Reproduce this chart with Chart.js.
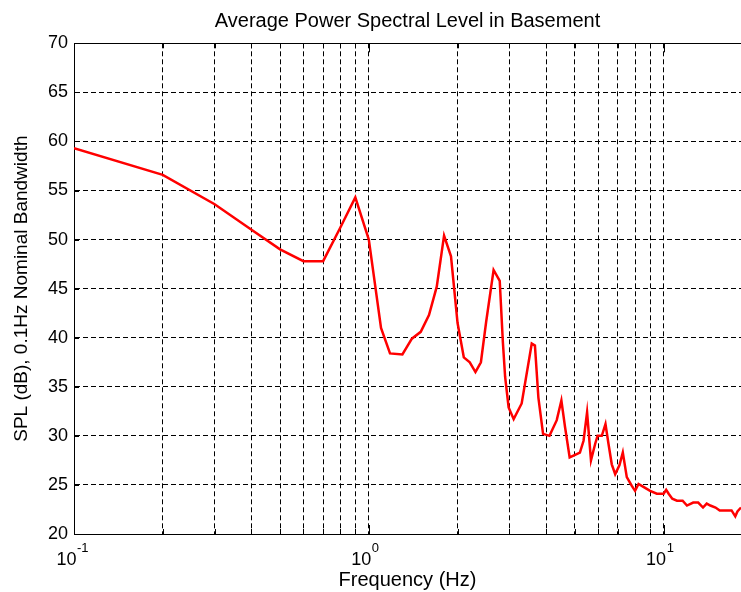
<!DOCTYPE html>
<html lang="en">
<head>
  <meta charset="UTF-8" />
  <title>Average Power Spectral Level in Basement</title>
  <script src="https://cdn.jsdelivr.net/npm/chart.js"></script>
  <style>
    html, body { margin: 0; padding: 0; background: #fff; }
    canvas { display: block; }
  </style>
</head>
<body>
  <canvas id="splChart" width="741" height="592"></canvas>

  <script>
    // frequency (Hz) and level (dB)
    const freq = [
      0.1, 0.2, 0.3, 0.4, 0.5, 0.6, 0.7, 0.8, 0.9, 1.0,
      1.1, 1.18, 1.3, 1.4, 1.5, 1.6, 1.7, 1.8, 1.9, 2.0,
      2.1, 2.2, 2.3, 2.4, 2.5, 2.65, 2.78, 2.85, 2.9, 2.98,
      3.1, 3.3, 3.57, 3.66, 3.76, 3.9, 4.1, 4.34, 4.5, 4.63,
      4.8, 5.2, 5.35, 5.5, 5.67, 5.86, 5.97, 6.17, 6.35, 6.5,
      6.67, 6.85, 7.08, 7.27, 7.5, 7.8, 8.0, 8.22, 8.54, 9.0,
      9.48, 10.0, 10.2, 10.4, 10.7, 11.1, 11.6, 12.0, 12.6, 13.1,
      13.6, 14.0, 14.4, 15.0, 15.5, 16.4, 17.0, 17.5, 17.8, 18.3
    ];
    const spl = [
      59.3, 56.6, 53.6, 51.0, 49.0, 47.8, 47.8, 51.2, 54.3, 50.0,
      41.0, 38.4, 38.3, 39.9, 40.6, 42.3, 45.2, 50.4, 48.3, 41.5,
      38.0, 37.5, 36.5, 37.5, 41.6, 46.9, 45.8, 39.5, 36.0, 32.9,
      31.7, 33.3, 39.4, 39.2, 33.9, 30.2, 30.0, 31.6, 33.6, 30.9,
      27.8, 28.3, 29.5, 32.4, 27.5, 29.2, 30.0, 30.0, 31.2, 29.2,
      27.1, 26.1, 27.0, 28.3, 25.8, 24.9, 24.4, 25.1, 24.8, 24.4,
      24.1, 24.1, 24.5, 24.1, 23.6, 23.4, 23.4, 22.9, 23.2, 23.2,
      22.7, 23.1, 22.9, 22.7, 22.4, 22.4, 22.4, 21.8, 22.3, 22.7
    ];

    // axes
    const xTicks = [0.1, 0.2, 0.3, 0.4, 0.5, 0.6, 0.7, 0.8, 0.9,
                    1, 2, 3, 4, 5, 6, 7, 8, 9, 10];
    const decadeTicks = [0.1, 1, 10];
    const decadeExps = ['-1', '0', '1'];
    const yTicks = [20, 25, 30, 35, 40, 45, 50, 55, 60, 65, 70];

    Chart.defaults.font.family = "'Liberation Sans', Arial, sans-serif";
    Chart.defaults.color = '#000';

    // matlab style frame: top edge, inward ticks, 10^n labels
    const frame = {
      id: 'frame',
      beforeDatasetsDraw(chart) {
        const { ctx, chartArea: a, scales: { x, y } } = chart;
        ctx.save();
        ctx.strokeStyle = '#000';
        ctx.lineWidth = 1;
        ctx.setLineDash([]);
        ctx.beginPath();
        ctx.moveTo(a.left, Math.round(a.top) + 0.5);
        ctx.lineTo(a.right, Math.round(a.top) + 0.5);
        xTicks.forEach(v => {
          const px = Math.round(x.getPixelForValue(v)) + 0.5;
          const len = decadeTicks.includes(v) ? 9 : 5;
          ctx.moveTo(px, a.bottom);
          ctx.lineTo(px, a.bottom - len);
          ctx.moveTo(px, a.top);
          ctx.lineTo(px, a.top + len);
        });
        yTicks.forEach(v => {
          const py = Math.round(y.getPixelForValue(v)) + 0.5;
          ctx.moveTo(a.left, py);
          ctx.lineTo(a.left + 5, py);
        });
        ctx.stroke();

        ctx.fillStyle = '#000';
        decadeTicks.forEach((v, i) => {
          const px = x.getPixelForValue(v);
          ctx.font = "18px 'Liberation Sans', Arial, sans-serif";
          ctx.textAlign = 'right';
          ctx.textBaseline = 'alphabetic';
          ctx.fillText('10', px + 2.5, 564.5);
          ctx.font = "13px 'Liberation Sans', Arial, sans-serif";
          ctx.textAlign = 'left';
          ctx.fillText(decadeExps[i], px + 3, 552);
        });
        ctx.restore();
      }
    };

    const ctx = document.getElementById('splChart').getContext('2d');

    new Chart(ctx, {
      type: 'line',
      data: {
        datasets: [{
          label: 'SPL',
          data: freq.map((f, i) => ({ x: f, y: spl[i] })),
          borderColor: '#ff0000',
          borderWidth: 2.5,
          pointRadius: 0,
          tension: 0,
          fill: false
        }]
      },
      options: {
        responsive: false,
        animation: false,
        devicePixelRatio: 1,
        layout: { padding: 0 },
        plugins: {
          legend: { display: false },
          tooltip: { enabled: false },
          title: {
            display: true,
            text: 'Average Power Spectral Level in Basement',
            fullSize: false,
            color: '#000',
            font: { size: 20, weight: 'normal' },
            padding: { top: 9.5, bottom: 9.8 }
          }
        },
        scales: {
          x: {
            type: 'logarithmic',
            min: 0.1,
            max: 18.3,
            afterBuildTicks: s => { s.ticks = xTicks.map(v => ({ value: v })); },
            afterFit: s => { s.height = 58; },
            ticks: { callback: () => '', autoSkip: false, maxRotation: 0 },
            grid: { color: '#000', lineWidth: 1, drawTicks: false },
            border: { color: '#000', width: 1, dash: [5, 3] },
            title: {
              display: true,
              text: 'Frequency (Hz)',
              color: '#000',
              font: { size: 20 },
              padding: { top: 0, bottom: 0 }
            }
          },
          y: {
            min: 20,
            max: 70,
            afterBuildTicks: s => { s.ticks = yTicks.map(v => ({ value: v })); },
            afterFit: s => { s.width = 74; },
            ticks: { font: { size: 18 }, color: '#000', padding: 6 },
            grid: { color: '#000', lineWidth: 1, drawTicks: false },
            border: { color: '#000', width: 1, dash: [5, 3] },
            title: {
              display: true,
              text: 'SPL (dB), 0.1Hz Nominal Bandwidth',
              color: '#000',
              font: { size: 19 },
              padding: { top: 10, bottom: 0 }
            }
          }
        }
      },
      plugins: [frame]
    });
  </script>
</body>
</html>
